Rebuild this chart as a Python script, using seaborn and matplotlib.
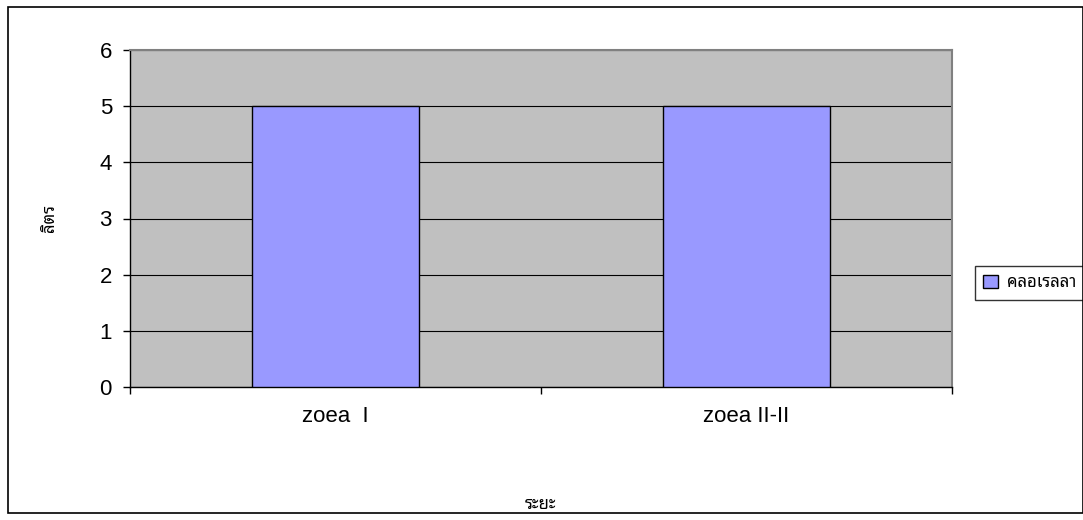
import matplotlib.pyplot as plt
from matplotlib.patches import Rectangle
import numpy as np
import pandas as pd
import seaborn as sns

# data
STAGES = ["zoea  I", "zoea II-II"]
LITRES = [5, 5]
SERIES = "คลอเรลลา"

df = pd.DataFrame({"stage": STAGES, "litre": LITRES})

sns.set_style("white")
plt.rcParams['font.family'] = ['Liberation Sans', 'Noto Sans Thai Looped', 'DejaVu Sans']
THAI = ['Noto Sans Thai Looped', 'Liberation Sans']

fig = plt.figure(figsize=(10.83, 5.20), dpi=100)
ax = fig.add_axes([130 / 1083, 1 - 387 / 520, 822 / 1083, 337 / 520])
ax.set_facecolor("#C0C0C0")

sns.barplot(data=df, x="stage", y="litre", color="#9999FF", edgecolor="black",
            linewidth=1, width=0.404, saturation=1, label=SERIES, ax=ax, zorder=3)

ax.set_xlim(-0.5, 1.5)
ax.set_ylim(0, 6)
ax.set_yticks(np.arange(0, 7, 1))
ax.yaxis.grid(True, color="black", linewidth=0.8, zorder=1)
ax.set_axisbelow(True)
ax.tick_params(axis="y", length=5, width=1, color="black", labelcolor="black",
               labelsize=16, left=True, direction="out", pad=8)
ax.tick_params(axis="x", length=0, labelsize=16, labelcolor="black", pad=14)
ax.set_xticks([-0.5, 0.5, 1.5], minor=True)
ax.tick_params(axis="x", which="minor", length=5, width=1, color="black", bottom=True, direction="out")

for side in ["top", "right"]:
    ax.spines[side].set_color("#808080")
    ax.spines[side].set_linewidth(1.5)
for side in ["left", "bottom"]:
    ax.spines[side].set_color("black")
    ax.spines[side].set_linewidth(1)

ax.set_xlabel("ระยะ", fontsize=12, fontweight="bold", family=THAI, color="black", labelpad=50)
ax.set_ylabel("ลิตร", fontsize=12, fontweight="bold", family=THAI, color="black", labelpad=30)

leg = ax.legend(loc="center left", bbox_to_anchor=(975 / 1083, 1 - 283 / 520),
                bbox_transform=fig.transFigure, frameon=True, fancybox=False,
                prop={"family": THAI, "size": 12},
                handlelength=0.9, handleheight=0.9, handletextpad=0.5,
                borderpad=0.5, borderaxespad=0)
leg.get_frame().set_edgecolor("black")
leg.get_frame().set_linewidth(1)
for t in leg.get_texts():
    t.set_color("black")

# outer chart border
fig.patches.append(Rectangle((8 / 1083, 7 / 520), 1 - 8 / 1083, 1 - 14 / 520,
                             transform=fig.transFigure, fill=False,
                             edgecolor="black", linewidth=1.2))

fig.savefig("out.png", dpi=100)
